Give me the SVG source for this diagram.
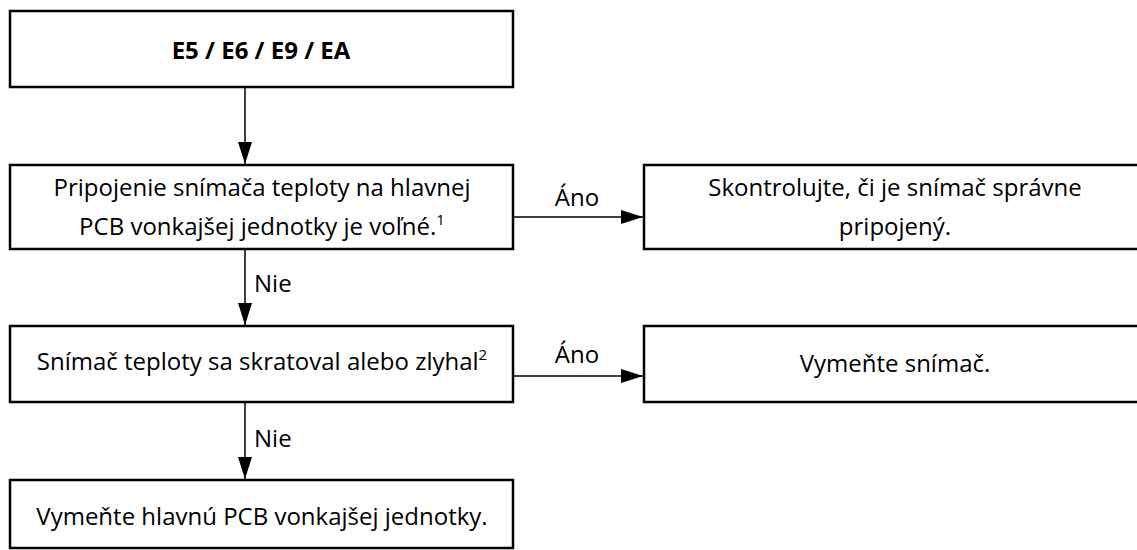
<svg xmlns="http://www.w3.org/2000/svg" width="1137" height="550" viewBox="0 0 1137 550">
<style>
  .box { fill: #ffffff; stroke: #000000; stroke-width: 2.5; }
  .t { font-family: "Open Sans", "Noto Sans", sans-serif; font-size: 24px; fill: #000000; text-anchor: middle; }
  .b { font-weight: bold; }
  .lbl { font-family: "Open Sans", "Noto Sans", sans-serif; font-size: 24px; fill: #000000; }
  .sup { font-size: 15px; }
  .conn { stroke: #000000; stroke-width: 1.5; fill: none; }
</style>
<defs>
  <marker id="arr" viewBox="0 0 22 14" refX="22" refY="7" markerWidth="22" markerHeight="14" markerUnits="userSpaceOnUse" orient="auto">
    <path d="M0,0 L22,7 L0,14 Z" fill="#000000"/>
  </marker>
</defs>
<rect width="1137" height="550" fill="#ffffff"/>
<g id="n1">
  <rect class="box" x="10" y="11" width="503" height="76"/>
  <text class="t b" x="261" y="59">E5 / E6 / E9 / EA</text>
</g>
<g id="n2">
  <rect class="box" x="10" y="165" width="503" height="84"/>
  <text class="t" x="262" y="196">Pripojenie snímača teploty na hlavnej</text>
  <text class="t" x="262" y="235">PCB vonkajšej jednotky je voľné.<tspan class="sup" dy="-10">1</tspan></text>
</g>
<g id="n3">
  <rect class="box" x="644" y="165" width="502" height="84"/>
  <text class="t" x="895" y="196">Skontrolujte, či je snímač správne</text>
  <text class="t" x="895" y="235">pripojený.</text>
</g>
<g id="n4">
  <rect class="box" x="10" y="326" width="503" height="76"/>
  <text class="t" x="262" y="370">Snímač teploty sa skratoval alebo zlyhal<tspan class="sup" dy="-10">2</tspan></text>
</g>
<g id="n5">
  <rect class="box" x="644" y="326" width="502" height="76"/>
  <text class="t" x="895" y="372">Vymeňte snímač.</text>
</g>
<g id="n6">
  <rect class="box" x="10" y="480" width="503" height="68"/>
  <text class="t" x="262" y="525">Vymeňte hlavnú PCB vonkajšej jednotky.</text>
</g>
<g id="connectors">
  <line class="conn" x1="245" y1="87" x2="245" y2="164" marker-end="url(#arr)"/>
  <line class="conn" x1="245" y1="249" x2="245" y2="325" marker-end="url(#arr)"/>
  <text class="lbl" x="254" y="292">Nie</text>
  <line class="conn" x1="245" y1="402" x2="245" y2="479" marker-end="url(#arr)"/>
  <text class="lbl" x="254" y="447">Nie</text>
  <line class="conn" x1="513" y1="217" x2="643" y2="217" marker-end="url(#arr)"/>
  <text class="lbl" x="577" y="206" text-anchor="middle">Áno</text>
  <line class="conn" x1="513" y1="376" x2="643" y2="376" marker-end="url(#arr)"/>
  <text class="lbl" x="577" y="363" text-anchor="middle">Áno</text>
</g>
</svg>
